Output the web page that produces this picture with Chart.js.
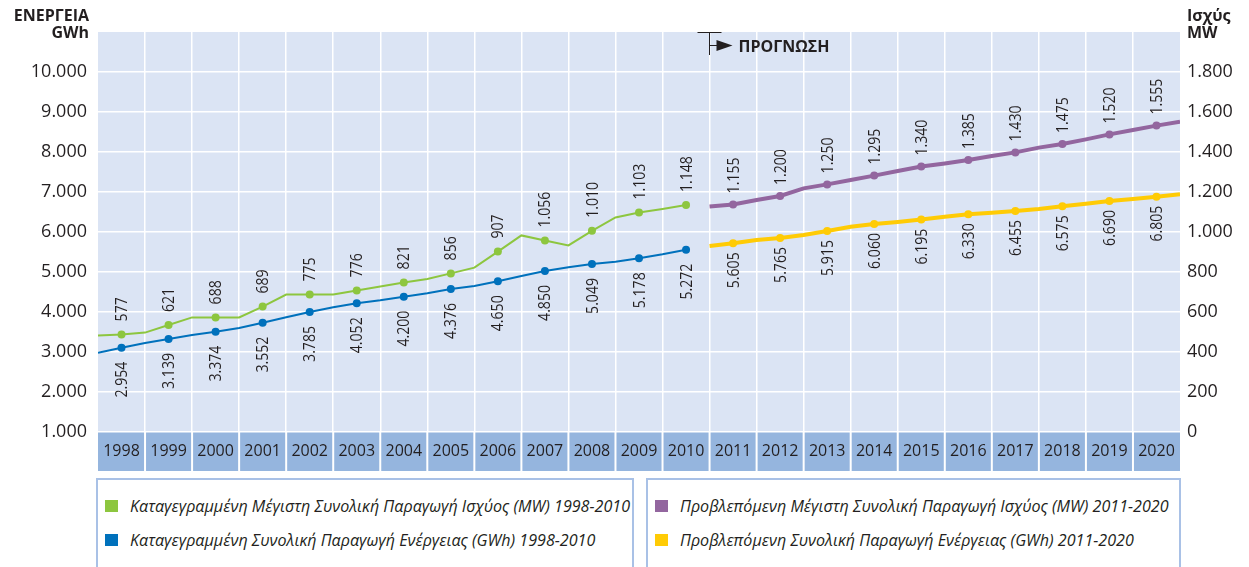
<!DOCTYPE html>
<html lang="el">
<head>
<meta charset="utf-8">
<title>Ενέργεια και Ισχύς 1998-2020</title>
<script src="https://cdn.jsdelivr.net/npm/chart.js@4.4.1/dist/chart.umd.min.js"></script>
<style>
  html, body { margin: 0; padding: 0; background: #fff; }
  #wrap { position: relative; width: 1249px; height: 567px; overflow: hidden; font-family: "Open Sans", sans-serif; color: #231f20; }
  #chart { position: absolute; left: 0; top: 0; }
  .legend-box { position: absolute; top: 478px; height: 100px; border: 2px solid #a9c1e6; box-sizing: border-box; }
  .legend-item { position: absolute; left: 0; height: 20px; white-space: nowrap; }
  .legend-item i { position: absolute; left: 7px; top: 4px; width: 13px; height: 12px; }
  .legend-item span { position: absolute; left: 32px; top: 0; font-style: italic; font-size: 16px; line-height: 20px; transform-origin: 0 50%; }
</style>
</head>
<body>
<div id="wrap">
  <canvas id="chart" width="1249" height="476"></canvas>
  <div class="legend-box" id="legendPast" style="left:96px; width:538px;"></div>
  <div class="legend-box" id="legendFuture" style="left:646px; width:535px;"></div>
</div>
<script>
// years on the axis
var years = [1998, 1999, 2000, 2001, 2002, 2003, 2004, 2005, 2006, 2007, 2008, 2009, 2010,
             2011, 2012, 2013, 2014, 2015, 2016, 2017, 2018, 2019, 2020];

// printed values
var recordedPowerValues = [577, 621, 688, 689, 775, 776, 821, 856, 907, 1056, 1010, 1103, 1148];
var recordedEnergyValues = [2954, 3139, 3374, 3552, 3785, 4052, 4200, 4376, 4650, 4850, 5049, 5178, 5272];
var forecastPowerValues = [1155, 1200, 1250, 1295, 1340, 1385, 1430, 1475, 1520, 1555];
var forecastEnergyValues = [5605, 5765, 5915, 6060, 6195, 6330, 6455, 6575, 6690, 6805];

// half-year positions of the drawn line vertices
var pastSteps = [1997.5, 1998, 1998.5, 1999, 1999.5, 2000, 2000.5, 2001, 2001.5, 2002, 2002.5, 2003, 2003.5,
                 2004, 2004.5, 2005, 2005.5, 2006, 2006.5, 2007, 2007.5, 2008, 2008.5, 2009, 2009.5, 2010];
var futureSteps = [2010.5, 2011, 2011.5, 2012, 2012.5, 2013, 2013.5, 2014, 2014.5, 2015, 2015.5,
                   2016, 2016.5, 2017, 2017.5, 2018, 2018.5, 2019, 2019.5, 2020, 2020.5];

// line heights as drawn in the picture (MW on the right axis, GWh on the left axis)
var recordedPowerLine = [482, 488, 497, 535, 573, 573, 573, 627, 687, 687, 687, 708, 728,
                         748, 765, 793, 822, 902, 983, 957, 933, 1006, 1073, 1097, 1115, 1135];
var recordedEnergyLine = [2983, 3108, 3225, 3325, 3425, 3508, 3600, 3733, 3867, 4000, 4117, 4217, 4292,
                          4383, 4467, 4575, 4650, 4767, 4900, 5025, 5117, 5200, 5258, 5342, 5442, 5558];
var forecastPowerLine = [1127, 1138, 1160, 1180, 1218, 1238, 1260, 1282, 1305, 1327, 1343,
                         1360, 1380, 1398, 1422, 1440, 1463, 1488, 1510, 1532, 1552];
var forecastEnergyLine = [5650, 5717, 5800, 5850, 5925, 6025, 6133, 6200, 6250, 6310, 6383,
                          6442, 6483, 6525, 6575, 6642, 6708, 6775, 6825, 6883, 6942];

var GREEN = '#8dc63f', BLUE = '#0071bc', PURPLE = '#93669f', YELLOW = '#ffcb05';
var TEXT = '#231f20';

function fmt(v) {
  return String(v).replace(/\B(?=(\d{3})+(?!\d))/g, '.');
}
function points(xs, ys) {
  return xs.map(function (x, i) { return { x: x, y: ys[i] }; });
}
function atYear(ctx) {
  return ctx.raw && Number.isInteger(ctx.raw.x);
}

var bandPlugin = {
  id: 'band',
  beforeDraw: function (chart) {
    var ctx = chart.ctx, a = chart.chartArea, x = chart.scales.x;
    ctx.save();
    ctx.fillStyle = '#dbe4f4';
    ctx.fillRect(a.left, a.top, a.right - a.left, a.bottom - a.top);
    ctx.fillStyle = '#95b5de';
    years.forEach(function (y, i) {
      var l = x.getPixelForValue(y - 0.5), r = x.getPixelForValue(y + 0.5);
      var gl = i === 0 ? 0 : 1, gr = i === years.length - 1 ? 0 : 1;
      ctx.fillRect(l + gl, a.bottom, r - l - gl - gr, 39);
    });
    ctx.restore();
  }
};

var valueLabelPlugin = {
  id: 'valueLabels',
  afterDatasetsDraw: function (chart) {
    var ctx = chart.ctx;
    ctx.save();
    ctx.fillStyle = TEXT;
    ctx.font = '16px "Open Sans"';
    chart.data.datasets.forEach(function (ds, di) {
      var meta = chart.getDatasetMeta(di);
      meta.data.forEach(function (pt, j) {
        var raw = ds.data[j];
        if (!Number.isInteger(raw.x)) return;
        var v = ds.valueLabels[raw.x - ds.firstYear];
        var above = ds.labelSide === 'above';
        ctx.save();
        ctx.translate(pt.x + 1, pt.y + (above ? -ds.labelGap : ds.labelGap));
        ctx.rotate(-Math.PI / 2);
        ctx.scale(0.88, 1);
        ctx.textAlign = above ? 'left' : 'right';
        ctx.textBaseline = 'middle';
        ctx.fillText(fmt(v), 0, 0);
        ctx.restore();
      });
    });
    ctx.restore();
  }
};

var headerPlugin = {
  id: 'headers',
  afterDraw: function (chart) {
    var ctx = chart.ctx, a = chart.chartArea;
    ctx.save();
    ctx.fillStyle = TEXT;
    ctx.strokeStyle = TEXT;
    ctx.font = 'bold 16px "Open Sans"';
    ctx.textBaseline = 'alphabetic';
    ctx.textAlign = 'right';
    ctx.fillText('ΕΝΕΡΓΕΙΑ', 89, 21);
    ctx.fillText('GWh', 89, 38);
    ctx.textAlign = 'left';
    ctx.fillText('Ισχύς', 1187, 21);
    ctx.fillText('MW', 1187, 38);

    // forecast marker
    var fx = Math.round(chart.scales.x.getPixelForValue(2010.5)) - 0.5;
    ctx.lineWidth = 1;
    ctx.beginPath();
    ctx.moveTo(fx, a.top);
    ctx.lineTo(fx, a.top + 23);
    ctx.moveTo(fx - 12, a.top + 0.5);
    ctx.lineTo(fx + 12, a.top + 0.5);
    ctx.moveTo(fx, a.top + 13.5);
    ctx.lineTo(fx + 10, a.top + 13.5);
    ctx.stroke();
    ctx.beginPath();
    ctx.moveTo(fx + 7, a.top + 8);
    ctx.lineTo(fx + 23, a.top + 13.5);
    ctx.lineTo(fx + 7, a.top + 19);
    ctx.closePath();
    ctx.fill();
    ctx.font = 'bold 16px "Open Sans"';
    ctx.fillText('ΠΡΟΓΝΩΣΗ', fx + 29, a.top + 20);
    ctx.restore();
  }
};

var xTicks = years.flatMap(function (y) { return [y - 0.5, y]; }).concat([years[years.length - 1] + 0.5]);

var chart = new Chart(document.getElementById('chart').getContext('2d'), {
  type: 'line',
  data: {
    datasets: [{
      label: 'Καταγεγραμμένη Μέγιστη Συνολική Παραγωγή Ισχύος (MW) 1998-2010',
      data: points(pastSteps, recordedPowerLine),
      yAxisID: 'y1',
      borderColor: GREEN,
      backgroundColor: GREEN,
      borderWidth: 2,
      pointRadius: function (c) { return atYear(c) ? 4 : 0; },
      pointBorderWidth: 0,
      valueLabels: recordedPowerValues, firstYear: 1998, labelSide: 'above', labelGap: 13
    }, {
      label: 'Καταγεγραμμένη Συνολική Παραγωγή Ενέργειας (GWh) 1998-2010',
      data: points(pastSteps, recordedEnergyLine),
      yAxisID: 'y',
      borderColor: BLUE,
      backgroundColor: BLUE,
      borderWidth: 2,
      pointRadius: function (c) { return atYear(c) ? 4 : 0; },
      pointBorderWidth: 0,
      valueLabels: recordedEnergyValues, firstYear: 1998, labelSide: 'below', labelGap: 14
    }, {
      label: 'Προβλεπόμενη Μέγιστη Συνολική Παραγωγή Ισχύος (MW) 2011-2020',
      data: points(futureSteps, forecastPowerLine),
      yAxisID: 'y1',
      borderColor: PURPLE,
      backgroundColor: PURPLE,
      borderWidth: 4,
      pointRadius: function (c) { return atYear(c) ? 4 : 0; },
      pointBorderWidth: 0,
      valueLabels: forecastPowerValues, firstYear: 2011, labelSide: 'above', labelGap: 11
    }, {
      label: 'Προβλεπόμενη Συνολική Παραγωγή Ενέργειας (GWh) 2011-2020',
      data: points(futureSteps, forecastEnergyLine),
      yAxisID: 'y',
      borderColor: YELLOW,
      backgroundColor: YELLOW,
      borderWidth: 4,
      pointRadius: function (c) { return atYear(c) ? 4 : 0; },
      pointBorderWidth: 0,
      valueLabels: forecastEnergyValues, firstYear: 2011, labelSide: 'below', labelGap: 9
    }]
  },
  options: {
    responsive: false,
    animation: false,
    layout: { padding: { top: 32, left: 0, right: 0, bottom: 0 } },
    plugins: {
      legend: { display: false },
      tooltip: { enabled: false }
    },
    scales: {
      x: {
        type: 'linear',
        min: 1997.5,
        max: 2020.5,
        afterBuildTicks: function (s) { s.ticks = xTicks.map(function (v) { return { value: v }; }); },
        afterFit: function (s) { s.height = 44; },
        border: { display: false },
        grid: {
          drawTicks: false,
          lineWidth: 1.5,
          color: function (c) {
            var v = c.tick && c.tick.value;
            return (v !== undefined && !Number.isInteger(v) && v > 1997.5 && v < 2020.5) ? '#ffffff' : 'rgba(0,0,0,0)';
          }
        },
        ticks: {
          autoSkip: false,
          maxRotation: 0,
          padding: 10,
          color: TEXT,
          font: { family: 'Open Sans', size: 16 },
          callback: function (v) { return Number.isInteger(v) ? String(v) : ''; }
        }
      },
      y: {
        position: 'left',
        min: 1000,
        max: 11000,
        afterFit: function (s) { s.width = 98; },
        border: { display: false },
        grid: {
          drawTicks: false,
          lineWidth: 1.5,
          color: function (c) { return c.tick && c.tick.value === 11000 ? 'rgba(0,0,0,0)' : '#ffffff'; }
        },
        ticks: {
          stepSize: 1000,
          padding: 11,
          color: TEXT,
          font: { family: 'Open Sans', size: 18 },
          callback: function (v) { return v === 11000 ? '' : fmt(v); }
        }
      },
      y1: {
        position: 'right',
        min: 0,
        max: 2000,
        afterFit: function (s) { s.width = 69; },
        border: { display: false },
        grid: { display: false, drawTicks: false },
        ticks: {
          stepSize: 200,
          padding: 7,
          color: TEXT,
          font: { family: 'Open Sans', size: 18 },
          callback: function (v) { return v === 2000 ? '' : fmt(v); }
        }
      }
    }
  },
  plugins: [bandPlugin, valueLabelPlugin, headerPlugin]
});

// legend boxes built from the dataset labels
function addLegend(boxId, indices) {
  var box = document.getElementById(boxId);
  indices.forEach(function (di, k) {
    var ds = chart.data.datasets[di];
    var item = document.createElement('div');
    item.className = 'legend-item';
    item.style.top = (16 + k * 34) + 'px';
    var sw = document.createElement('i');
    sw.style.background = ds.borderColor;
    var tx = document.createElement('span');
    tx.textContent = ds.label;
    item.appendChild(sw);
    item.appendChild(tx);
    box.appendChild(item);
  });
}
addLegend('legendPast', [0, 1]);
addLegend('legendFuture', [2, 3]);

// condense the legend text like the original narrow face
var spans = document.querySelectorAll('.legend-item span');
var factor = 500 / spans[0].getBoundingClientRect().width;
spans.forEach(function (s) { s.style.transform = 'scaleX(' + factor + ')'; });
</script>
</body>
</html>
